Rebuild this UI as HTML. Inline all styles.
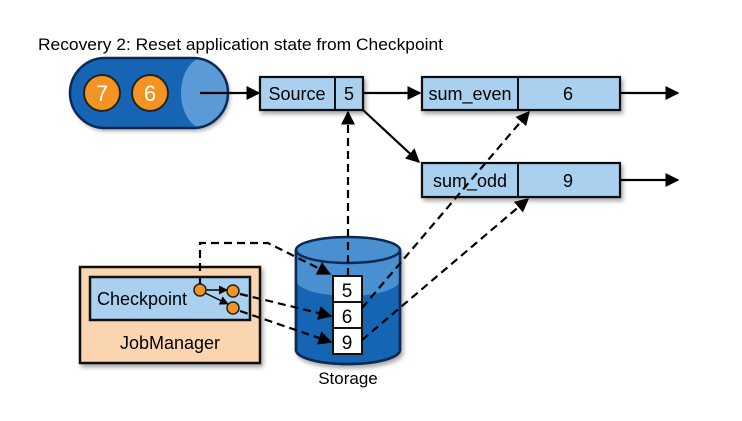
<!DOCTYPE html>
<html><head><meta charset="utf-8"><style>
html,body{margin:0;padding:0;background:#fff;}
svg{display:block;}
text{font-family:"Liberation Sans Narrow","Liberation Sans",sans-serif;}
</style></head><body>
<svg width="742" height="421" viewBox="0 0 742 421" xmlns="http://www.w3.org/2000/svg">
<defs>
<marker id="ah" viewBox="0 0 10 10" refX="9" refY="5" markerWidth="9" markerHeight="9" markerUnits="userSpaceOnUse" orient="auto"><path d="M0,0 L10,5 L0,10 z" fill="#000"/></marker>
<marker id="ah2" viewBox="0 0 10 10" refX="9" refY="5" markerWidth="14" markerHeight="14" markerUnits="userSpaceOnUse" orient="auto"><path d="M0,0 L10,5 L0,10 z" fill="#000"/></marker>
<filter id="sh" x="-10%" y="-10%" width="130%" height="140%"><feDropShadow dx="2" dy="3" stdDeviation="2" flood-opacity="0.35"/></filter>
<clipPath id="qc"><rect x="70" y="58" width="158" height="70" rx="35"/></clipPath>
</defs>
<text x="38" y="50" font-size="17" textLength="405" lengthAdjust="spacingAndGlyphs">Recovery 2: Reset application state from Checkpoint</text>

<!-- queue -->
<rect x="70" y="58" width="158" height="70" rx="35" fill="#1565b5" filter="url(#sh)"/>
<ellipse cx="205" cy="93" rx="24" ry="36" fill="#5a9ad6" clip-path="url(#qc)"/>
<rect x="205" y="55" width="30" height="76" fill="#5a9ad6" clip-path="url(#qc)"/>
<rect x="70" y="58" width="158" height="70" rx="35" fill="none" stroke="#0a2a55" stroke-width="2.5"/>
<circle cx="102" cy="93" r="18" fill="#f39422" stroke="#222" stroke-width="2"/>
<circle cx="150" cy="93" r="18" fill="#f39422" stroke="#222" stroke-width="2"/>
<text x="102" y="101" font-size="22" fill="#fff" text-anchor="middle">7</text>
<text x="150" y="101" font-size="22" fill="#fff" text-anchor="middle">6</text>
<line x1="200" y1="93" x2="259" y2="93" stroke="#000" stroke-width="2.2" marker-end="url(#ah2)"/>

<!-- source -->
<g filter="url(#sh)"><rect x="260" y="77" width="103" height="33" fill="#a9d0ef" stroke="#111" stroke-width="2.2"/></g>
<line x1="335" y1="77" x2="335" y2="110" stroke="#111" stroke-width="2"/>
<text x="297" y="100" font-size="18" text-anchor="middle">Source</text>
<text x="349" y="100" font-size="18" text-anchor="middle">5</text>

<!-- sum_even -->
<g filter="url(#sh)"><rect x="422" y="77" width="198" height="33" fill="#a9d0ef" stroke="#111" stroke-width="2.2"/></g>
<line x1="518" y1="77" x2="518" y2="110" stroke="#111" stroke-width="2"/>
<text x="470" y="100" font-size="18" text-anchor="middle">sum_even</text>
<text x="568" y="100" font-size="18" text-anchor="middle">6</text>
<!-- sum_odd -->
<g filter="url(#sh)"><rect x="422" y="163" width="198" height="34" fill="#a9d0ef" stroke="#111" stroke-width="2.2"/></g>
<line x1="518" y1="163" x2="518" y2="197" stroke="#111" stroke-width="2"/>
<text x="470" y="187" font-size="18" text-anchor="middle">sum_odd</text>
<text x="568" y="187" font-size="18" text-anchor="middle">9</text>

<line x1="363" y1="93" x2="420" y2="93" stroke="#000" stroke-width="2.2" marker-end="url(#ah2)"/>
<line x1="363" y1="110" x2="419" y2="162" stroke="#000" stroke-width="2.2" marker-end="url(#ah2)"/>
<line x1="620" y1="93" x2="678" y2="93" stroke="#000" stroke-width="2.2" marker-end="url(#ah2)"/>
<line x1="620" y1="180" x2="678" y2="180" stroke="#000" stroke-width="2.2" marker-end="url(#ah2)"/>

<!-- storage -->
<g filter="url(#sh)">
<path d="M296,250 L296,350 A52,14 0 0 0 400,350 L400,250 Z" fill="#1565b5" stroke="#0a2a55" stroke-width="2.5"/>
</g>
<path d="M296,250 L296,280 A52,16 0 0 0 400,280 L400,250 Z" fill="#4a8fd0"/>
<ellipse cx="348" cy="250" rx="52" ry="13" fill="#4a8fd0" stroke="#0a2a55" stroke-width="2.5"/>
<path d="M296,250 L296,350 A52,14 0 0 0 400,350 L400,250" fill="none" stroke="#0a2a55" stroke-width="2.5"/>
<rect x="333" y="276" width="29" height="78" fill="#fff" stroke="#111" stroke-width="2"/>
<line x1="333" y1="302" x2="362" y2="302" stroke="#111" stroke-width="2"/>
<line x1="333" y1="328" x2="362" y2="328" stroke="#111" stroke-width="2"/>
<text x="347" y="297" font-size="19" text-anchor="middle">5</text>
<text x="347" y="323" font-size="19" text-anchor="middle">6</text>
<text x="347" y="349" font-size="19" text-anchor="middle">9</text>
<text x="348" y="384" font-size="17" text-anchor="middle">Storage</text>

<!-- jobmanager -->
<g filter="url(#sh)"><rect x="80" y="267" width="180" height="96" fill="#fbd5b0" stroke="#111" stroke-width="2.5"/></g>
<rect x="90" y="277" width="160" height="43" fill="#a9d0ef" stroke="#111" stroke-width="2.5"/>
<text x="97" y="305" font-size="18">Checkpoint</text>
<text x="170" y="349" font-size="18" text-anchor="middle">JobManager</text>
<line x1="205" y1="290" x2="227" y2="290" stroke="#000" stroke-width="1.5" marker-end="url(#ah)"/>
<line x1="205" y1="293" x2="228" y2="304" stroke="#000" stroke-width="1.5" marker-end="url(#ah)"/>
<circle cx="200" cy="290" r="6" fill="#f39422" stroke="#222" stroke-width="1.5"/>
<circle cx="233" cy="291" r="6" fill="#f39422" stroke="#222" stroke-width="1.5"/>
<circle cx="233" cy="308" r="6" fill="#f39422" stroke="#222" stroke-width="1.5"/>

<!-- dashed -->
<g stroke="#000" stroke-width="2.2" stroke-dasharray="8,5" fill="none">
<path d="M200,284 L200,243 L268,243 L330,274" marker-end="url(#ah2)"/>
<line x1="240" y1="294" x2="331" y2="316" marker-end="url(#ah2)"/>
<line x1="240" y1="311" x2="331" y2="342" marker-end="url(#ah2)"/>
<line x1="348" y1="276" x2="348" y2="112" marker-end="url(#ah2)"/>
<line x1="362" y1="308" x2="529" y2="112" marker-end="url(#ah2)"/>
<line x1="362" y1="340" x2="528" y2="199" marker-end="url(#ah2)"/>
</g>
</svg>
</body></html>
